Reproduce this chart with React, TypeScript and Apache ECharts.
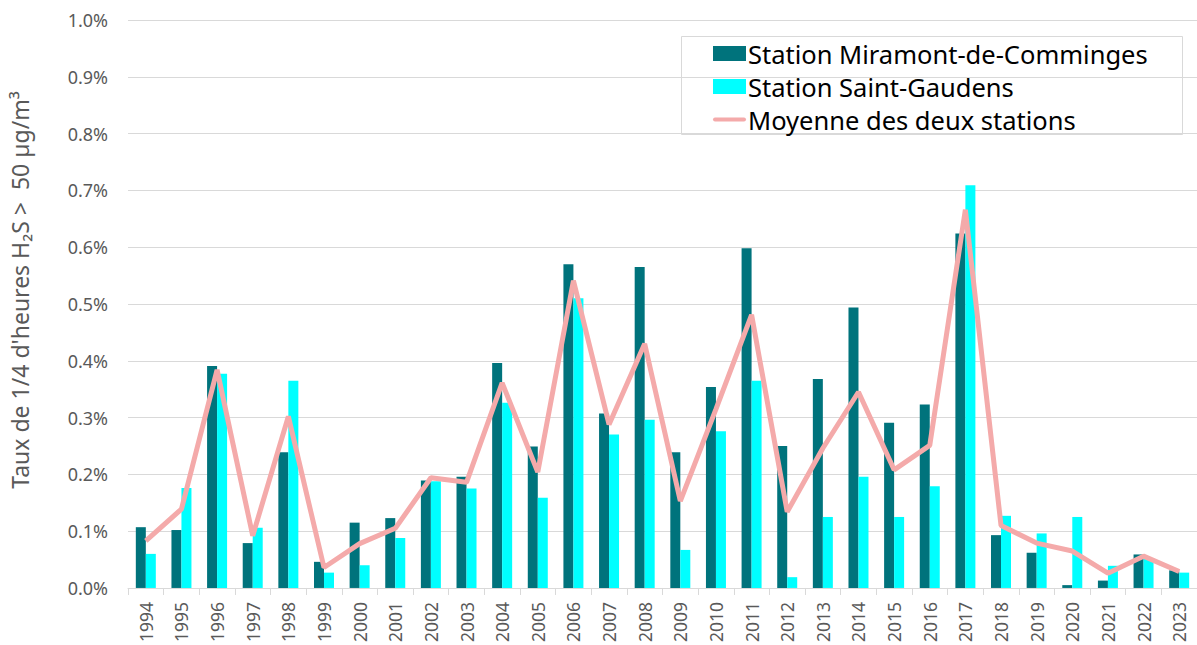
import React, { useEffect, useRef } from "react";
import * as echarts from "echarts";

const years = [
  "1994", "1995", "1996", "1997", "1998", "1999", "2000", "2001", "2002", "2003",
  "2004", "2005", "2006", "2007", "2008", "2009", "2010", "2011", "2012", "2013",
  "2014", "2015", "2016", "2017", "2018", "2019", "2020", "2021", "2022", "2023",
];

const miramont = [
  0.107, 0.102, 0.391, 0.079, 0.239, 0.046, 0.115, 0.123, 0.189, 0.196,
  0.396, 0.249, 0.57, 0.307, 0.565, 0.239, 0.354, 0.598, 0.25, 0.368,
  0.494, 0.291, 0.323, 0.624, 0.093, 0.062, 0.005, 0.013, 0.059, 0.031,
];

const saintGaudens = [
  0.06, 0.176, 0.377, 0.106, 0.365, 0.027, 0.04, 0.088, 0.188, 0.175,
  0.326, 0.159, 0.51, 0.27, 0.296, 0.067, 0.276, 0.365, 0.019, 0.125,
  0.196, 0.125, 0.179, 0.709, 0.127, 0.096, 0.125, 0.039, 0.051, 0.027,
];

const moyenne = [
  0.083, 0.139, 0.384, 0.092, 0.302, 0.036, 0.078, 0.105, 0.194, 0.186,
  0.361, 0.204, 0.541, 0.288, 0.43, 0.153, 0.315, 0.481, 0.134, 0.246,
  0.345, 0.208, 0.251, 0.666, 0.11, 0.079, 0.065, 0.026, 0.056, 0.029,
];

const yTicks = [0, 0.1, 0.2, 0.3, 0.4, 0.5, 0.6, 0.7, 0.8, 0.9, 1.0];

const FONT = "'Noto Sans', 'Open Sans', sans-serif";

export default function App() {
  const ref = useRef<HTMLDivElement>(null);

  useEffect(() => {
    document.body.style.margin = "0";
    if (!ref.current) return;
    const chart = echarts.init(ref.current, null, { renderer: "svg" });
    chart.setOption({
      animation: false,
      textStyle: { fontFamily: FONT },
      grid: { left: 128, right: 0, top: 20, bottom: 56, containLabel: false },
      xAxis: {
        type: "category",
        data: years,
        axisLine: { lineStyle: { color: "#d9d9d9", width: 1 } },
        axisTick: { show: true, length: 7, lineStyle: { color: "#d9d9d9" } },
        axisLabel: {
          rotate: 90,
          interval: 0,
          margin: 14,
          color: "#595959",
          fontSize: 17.5,
          fontFamily: FONT,
        },
      },
      yAxis: {
        type: "value",
        min: yTicks[0],
        max: yTicks[yTicks.length - 1],
        interval: 0.1,
        axisLine: { show: false },
        axisTick: { show: false },
        splitLine: { lineStyle: { color: "#d9d9d9", width: 1 } },
        axisLabel: {
          margin: 20,
          color: "#595959",
          fontSize: 18,
          fontFamily: FONT,
          formatter: (v: number) => v.toFixed(1) + "%",
        },
      },
      legend: {
        orient: "vertical",
        left: 713,
        top: 37,
        padding: 0,
        itemGap: 0,
        itemWidth: 33,
        itemHeight: 15,
        textStyle: {
          color: "#000000",
          fontSize: 25.5,
          lineHeight: 33,
          fontFamily: FONT,
          padding: [0, 0, 0, -3],
        },
        data: [
          { name: "Station Miramont-de-Comminges", icon: "rect" },
          { name: "Station Saint-Gaudens", icon: "rect" },
          { name: "Moyenne des deux stations", icon: "path://M2,0h29a2,2 0 0 1 0,4h-29a2,2 0 0 1 0,-4z" },
        ],
      },
      graphic: [
        {
          type: "rect",
          z: -1,
          shape: { x: 681.5, y: 36.5, width: 501, height: 98 },
          style: { fill: "#ffffff", stroke: "#d9d9d9", lineWidth: 1 },
        },
        {
          type: "text",
          x: 20,
          y: 290,
          rotation: Math.PI / 2,
          style: {
            text: "Taux de 1/4 d'heures H₂S >  50 µg/m³",
            align: "center",
            verticalAlign: "middle",
            fill: "#595959",
            fontSize: 23,
            fontFamily: FONT,
          },
        },
      ],
      series: [
        {
          name: "Station Miramont-de-Comminges",
          type: "bar",
          data: miramont,
          barWidth: 10,
          barGap: "0%",
          itemStyle: { color: "#00737C" },
        },
        {
          name: "Station Saint-Gaudens",
          type: "bar",
          data: saintGaudens,
          barWidth: 10,
          barGap: "0%",
          itemStyle: { color: "#00FFFF" },
        },
        {
          name: "Moyenne des deux stations",
          type: "line",
          data: moyenne,
          symbol: "none",
          z: 5,
          lineStyle: { color: "#F4AAAA", width: 5 },
          itemStyle: { color: "#F4AAAA" },
        },
      ],
    });
    return () => chart.dispose();
  }, []);

  return <div ref={ref} style={{ width: 1197, height: 645 }} />;
}
